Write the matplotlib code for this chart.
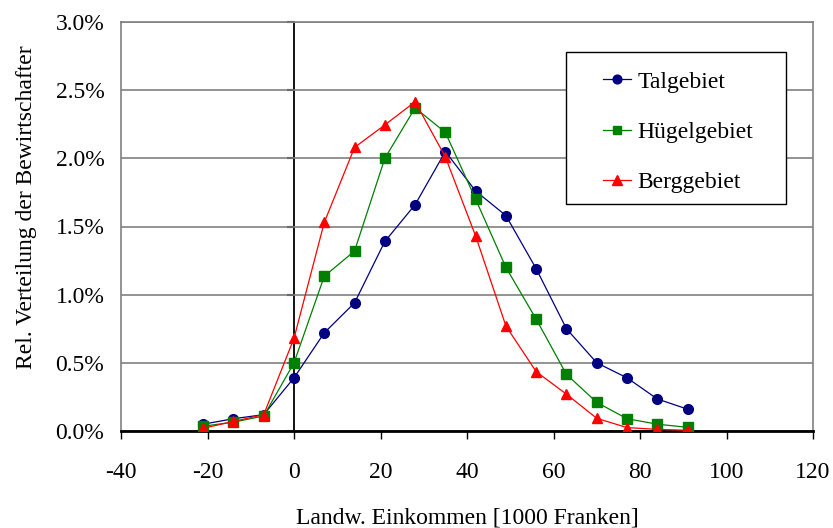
import matplotlib

matplotlib.use("Agg")
import matplotlib.pyplot as plt
from matplotlib.patches import Rectangle
from matplotlib.ticker import MultipleLocator, PercentFormatter

# Income classes in 1000 CHF (class midpoints)
income = [-21, -14, -7, 0, 7, 14, 21, 28, 35, 42, 49, 56, 63, 70, 77, 84, 91]

# Share of farm managers per income class, in percent
talgebiet = [0.05, 0.09, 0.12, 0.39, 0.72, 0.94, 1.39, 1.66, 2.05, 1.76, 1.58,
             1.19, 0.75, 0.50, 0.39, 0.235, 0.16]
huegelgebiet = [0.035, 0.065, 0.11, 0.50, 1.135, 1.32, 2.00, 2.37, 2.19, 1.70,
                1.20, 0.82, 0.415, 0.21, 0.09, 0.05, 0.027]
berggebiet = [0.02, 0.07, 0.12, 0.68, 1.53, 2.08, 2.245, 2.415, 2.01, 1.43,
              0.77, 0.435, 0.27, 0.093, 0.025, 0.012, 0.005]

series = [
    ("Talgebiet", talgebiet, "#000080", "o", 7),
    ("Hügelgebiet", huegelgebiet, "#008000", "s", 6.5),
    ("Berggebiet", berggebiet, "#FF0000", "^", 7.5),
]

plt.rcParams["font.family"] = ["Liberation Serif", "DejaVu Serif"]
plt.rcParams["font.size"] = 17
plt.rcParams["axes.unicode_minus"] = False

fig = plt.figure(figsize=(8.33, 5.28), dpi=100)
ax = fig.add_axes([121 / 833, 1 - 431 / 528, 692 / 833, 409 / 528])

for label, values, color, marker, ms in series:
    ax.plot(income, values, color=color, marker=marker, markersize=ms,
            linewidth=0.9, label=label, zorder=3)

ax.set_xlim(-40, 120)
ax.set_ylim(0, 3.0)
ax.xaxis.set_major_locator(MultipleLocator(20))
ax.yaxis.set_major_locator(MultipleLocator(0.5))
ax.yaxis.set_major_formatter(PercentFormatter(xmax=100, decimals=1))

ax.grid(axis="y", color="#808080", linewidth=1.2, zorder=1)
ax.set_axisbelow(True)
for side in ("left", "top", "right"):
    ax.spines[side].set_color("#808080")
    ax.spines[side].set_linewidth(1.2)
ax.spines["bottom"].set_color("black")
ax.spines["bottom"].set_linewidth(2)

ax.tick_params(axis="y", length=0, pad=12)
ax.tick_params(axis="x", length=6, width=1, direction="out", pad=16)

# value axis crossing at x = 0
yax = ax.secondary_yaxis(0.25)
yax.yaxis.set_major_locator(MultipleLocator(0.5))
yax.tick_params(length=5, width=1.5, labelleft=False)
yax.spines["left"].set_linewidth(1.3)

ax.set_xlabel("Landw. Einkommen [1000 Franken]", labelpad=18)
ax.set_ylabel("Rel. Verteilung der Bewirtschafter", labelpad=13, y=0.548)

# legend box
ax.add_patch(Rectangle((0.643, 0.555), 0.318, 0.3716, transform=ax.transAxes,
                       facecolor="white", edgecolor="black", linewidth=1,
                       zorder=4))
ax.legend(loc="upper left", bbox_to_anchor=(0.6965, 0.88), frameon=False,
          borderpad=0, borderaxespad=0, handlelength=1.2, handletextpad=0.25,
          labelspacing=1.22, markerscale=0.9).set_zorder(5)

fig.savefig("out.png", dpi=100)
